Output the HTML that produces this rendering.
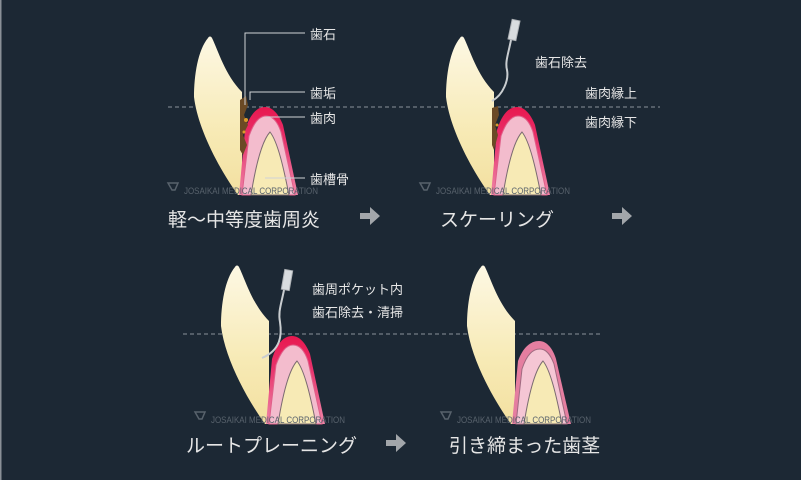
<!DOCTYPE html>
<html><head><meta charset="utf-8"><style>
html,body{margin:0;padding:0;background:#1c2834;}
svg{display:block}
text{font-family:"Liberation Sans","Noto Sans CJK JP",sans-serif;fill:#e6e6e6}
.wm{fill:#58626c;font-size:9px}
</style></head><body>
<svg width="801" height="480" viewBox="0 0 801 480" xmlns="http://www.w3.org/2000/svg">
<defs>
<linearGradient id="tg" x1="0" y1="0" x2="0" y2="1">
<stop offset="0" stop-color="#fdf8e4"/><stop offset="0.6" stop-color="#f7eab5"/><stop offset="1" stop-color="#f3e0a0"/>
</linearGradient>
<linearGradient id="rg" x1="0" y1="0" x2="0" y2="1">
<stop offset="0" stop-color="#e8184f"/><stop offset="0.35" stop-color="#e8306a"/><stop offset="1" stop-color="#ee86a8"/>
</linearGradient>
<g id="tooth">
<path d="M208,38 C198,50 194,75 194,97 C198,130 220,170 238,195 L242,195 L242,92 C225,75 218,50 212,38 C211,36 209,36 208,38 Z" fill="url(#tg)"/>
</g>
<g id="gumRed">
<path d="M239,195 L245,130 C250,114 257,107 265,107 C273,107 279,115 283,125 L298,195 Z" fill="url(#rg)"/>
<path d="M242,195 L249,136 C254,122 260,116 266,116 C273,116 278,123 281,132 L295,195 Z" fill="#f3bccd" stroke="#e0608a" stroke-width="1"/>
<path d="M251,195 C255,170 261,142 270,132 C278,142 284,170 289,195 Z" fill="#f7eab5" stroke="#7a6a70" stroke-width="1"/>
</g>
<g id="gumPink">
<path d="M239,195 L245,132 C250,118 258,112 266,112 C274,112 280,120 283,130 L298,195 Z" fill="#e57ea0"/>
<path d="M243,195 L249,140 C254,125 260,120 267,120 C274,120 278,127 281,135 L294,195 Z" fill="#f5c6d4" stroke="#a06a80" stroke-width="1"/>
<path d="M251,195 C255,170 261,142 270,132 C278,142 284,170 289,195 Z" fill="#f7eab5" stroke="#7a6a70" stroke-width="1"/>
</g>
<g id="wm">
<path d="M168,183 L178,183 L175,190 L172,190 Z" fill="none" stroke="#58626c" stroke-width="1.5"/>
<text class="wm" x="184" y="194" textLength="134" lengthAdjust="spacingAndGlyphs">JOSAIKAI MEDICAL CORPORATION</text>
</g>
<path id="arr" d="M0,-3 L10,-3 L10,-9 L20,0 L10,9 L10,3 L0,3 Z" fill="#a2a6aa"/>
</defs>
<rect x="0" y="0" width="1.5" height="480" fill="#8a9097"/>

<line x1="168" y1="107" x2="660" y2="107" stroke="#8a929a" stroke-width="1" stroke-dasharray="4,3"/>
<line x1="183" y1="334" x2="600" y2="334" stroke="#8a929a" stroke-width="1" stroke-dasharray="4,3"/>

<!-- Panel 1 -->
<use href="#tooth"/>
<use href="#gumRed"/>
<path d="M240,100 L246,96 L248,105 L244,115 L248,125 L243,135 L247,145 L243,155 L240,150 Z" fill="#6b4a25"/>
<circle cx="246" cy="120" r="2" fill="#d99a2b"/><circle cx="244" cy="132" r="1.5" fill="#d99a2b"/>
<g stroke="#cfd3d6" stroke-width="1" fill="none">
<path d="M245,105 L245,33 L305,33"/>
<path d="M250,100 L250,92 L305,92"/>
<path d="M266,117 L305,117"/>
<path d="M265,178 L305,178"/>
</g>
<text x="310" y="39" font-size="13">歯石</text>
<text x="310" y="98" font-size="13">歯垢</text>
<text x="310" y="123" font-size="13">歯肉</text>
<text x="310" y="184" font-size="13">歯槽骨</text>
<use href="#wm"/>
<text x="168" y="226" font-size="19">軽〜中等度歯周炎</text>
<use href="#arr" x="360" y="216"/>

<!-- Panel 2 -->
<g transform="translate(252,0)">
<use href="#tooth"/>
<use href="#gumRed"/>
<path d="M240,108 L246,106 L247,115 L243,125 L246,135 L242,150 L240,145 Z" fill="#6b4a25"/>
<circle cx="245" cy="125" r="1.5" fill="#d99a2b"/>
<use href="#wm"/>
</g>
<g fill="none" stroke="#c9cdd0">
<rect x="510" y="20" width="8" height="20" transform="rotate(12 514 30)" fill="#d8dcdf" stroke="#b0b4b8"/>
<path d="M511,40 C508,55 505,62 507,70 C509,80 503,95 492,101" stroke-width="2"/>
</g>
<text x="535" y="67" font-size="13">歯石除去</text>
<text x="585" y="98" font-size="13">歯肉縁上</text>
<text x="585" y="127" font-size="13">歯肉縁下</text>
<text x="440" y="226" font-size="19">スケーリング</text>
<use href="#arr" x="612" y="216"/>

<!-- Panel 3 -->
<g transform="translate(27,229)">
<use href="#tooth"/>
<use href="#gumRed"/>
<use href="#wm"/>
</g>
<g fill="none" stroke="#c9cdd0">
<rect x="283" y="270" width="8" height="20" transform="rotate(10 287 280)" fill="#d8dcdf" stroke="#b0b4b8"/>
<path d="M284,290 C281,305 278,312 280,322 C282,335 281,350 262,358" stroke-width="2"/>
</g>
<text x="312" y="294" font-size="13">歯周ポケット内</text>
<text x="312" y="317" font-size="13">歯石除去・清掃</text>
<text x="186" y="452" font-size="19">ルートプレーニング</text>
<use href="#arr" x="386" y="443"/>

<!-- Panel 4 -->
<g transform="translate(273,229)">
<use href="#tooth"/>
<use href="#gumPink"/>
<use href="#wm"/>
</g>
<text x="449" y="452" font-size="19">引き締まった歯茎</text>
</svg>
</body></html>
